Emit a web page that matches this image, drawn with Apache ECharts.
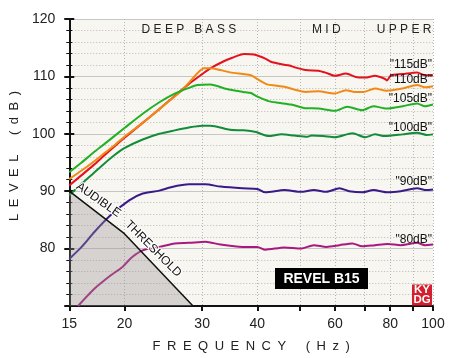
<!DOCTYPE html>
<html><head><meta charset="utf-8">
<script src="https://cdn.jsdelivr.net/npm/echarts@6/dist/echarts.min.js"></script>
<style>html,body{margin:0;padding:0;background:#fff}#c{width:450px;height:358px}</style>
</head><body><div id="c"></div>
<script>
// ---- data ----
const xLabelValues = [15, 20, 30, 40, 60, 80, 100];
const xGridValues = [15, 20, 30, 40, 50, 60, 70, 80, 90, 100];
const yMin = 70, yMax = 120, yStep = 10;

const red115 = [[15,91.0],[16,92.8],[17,94.5],[18,96.2],[20,99.3],[22,101.9],[24,104.3],[26,106.6],[28,108.7],[30,110.4],[31.3,111.4],[33.5,112.6],[35,113.2],[37.3,113.9],[39.3,113.8],[41.7,113.1],[42.8,112.6],[45.4,112.1],[47.3,111.9],[48.5,111.6],[51.5,111.1],[55,111.0],[57.4,110.6],[59.9,110.1],[63.5,110.5],[66.8,109.9],[70.2,109.8],[73.9,110.1],[77.7,109.6],[78.6,109.3],[80.4,110.2],[85.3,110.4],[92,110.7],[95.9,110.2],[100,110.2]];
const orange110 = [[15,92.1],[16,93.6],[17,95.1],[18,96.6],[19,98.0],[20,99.5],[22,101.9],[24,104.3],[26,106.5],[27,107.6],[28,108.9],[29.3,110.6],[30.3,111.4],[31.3,111.4],[33,111.1],[34.7,110.7],[37.1,110.4],[38.7,110.2],[39.7,109.7],[42.1,108.6],[44,108.4],[46.1,108.2],[48.5,107.7],[51.5,107.3],[55,107.4],[59.9,107.0],[63.5,107.6],[66.5,107.3],[69.7,107.3],[73.9,107.9],[78.4,107.5],[85.3,107.9],[92,108.5],[95.9,108.1],[100,108.3]];
const green105 = [[15,93.3],[16,95.0],[17,96.7],[18,98.2],[20,101.0],[22,103.5],[24,105.5],[26,107.0],[28,108.0],[29.3,108.5],[31.3,108.6],[34.1,107.8],[37.1,107.3],[38.7,107.1],[39.7,106.6],[42.4,105.7],[44.6,105.4],[47.7,105.1],[51,104.5],[55,104.4],[59.9,104.0],[64,104.7],[69.1,104.1],[73.3,104.8],[78.4,104.4],[85.3,104.8],[92,105.3],[95.9,104.8],[100,105.1]];
const dkgreen100 = [[15,89.3],[16,91.3],[17,93.1],[18,94.8],[19,96.3],[20,97.5],[22,99.0],[24,100.0],[26,100.6],[28,101.1],[30,101.4],[31.3,101.4],[34.7,100.7],[37.3,100.6],[39.7,100.3],[42.4,99.6],[45.4,99.9],[48.5,99.7],[51.9,99.5],[53.1,99.7],[56.4,99.6],[59.9,99.4],[65.7,100.1],[70.2,99.4],[73.9,99.9],[77.7,99.6],[85.3,99.9],[92,100.2],[96.7,99.8],[100,99.9]];
const purple90 = [[15,78.2],[16,80.3],[17.1,82.9],[18.6,85.8],[20.5,88.4],[22,89.6],[24,90.1],[25.5,90.7],[28,91.2],[30.5,91.2],[33,90.8],[37,90.5],[40,90.4],[41.7,89.8],[46.1,90.2],[50.2,89.9],[53.7,90.2],[57.4,89.9],[61.4,90.5],[64.6,90.0],[69.1,89.8],[73.3,90.2],[79,89.8],[84.5,90.0],[92,90.5],[96.7,90.2],[100,90.3]];
const magenta80 = [[15.7,70.0],[17.1,73.0],[18.6,75.3],[19.8,76.8],[20.8,78.5],[22,79.7],[24,80.3],[26,80.9],[28,81.0],[30.5,81.2],[33,80.7],[37,80.3],[40,80.3],[41.7,79.8],[46.1,80.2],[50.2,80.0],[53.7,80.6],[57.4,80.3],[61.4,80.6],[65.7,80.9],[69.1,80.4],[73.9,80.6],[79,80.8],[84.5,80.6],[92,81.0],[95.9,80.6],[100,80.7]];

const threshold = [[15,90],[20,82.6],[28.6,70]];

const seriesNames = ['"115dB"', '"110dB"', '"105dB"', '"100dB"', '"90dB"', '"80dB"'];
const seriesData = [red115, orange110, green105, dkgreen100, purple90, magenta80];
const labelLevels = [112.0, 109.35, 106.2, 101.15, 91.6, 81.6];

const bandNames = ['D E E P   B A S S', 'M I D', 'U P P E R'];
const bandFreqs = [28, 57.3, 86];
const bandLevel = 118.2;

// ---- styles ----
const colors = ['#e3121e', '#f08a14', '#22b024', '#138c3a', '#3a1a8a', '#a8187e'];
const FONT = '"Liberation Sans", Arial, Helvetica, sans-serif';
const SP = '\u2002';

const chart = echarts.init(document.getElementById('c'), null, {renderer: 'canvas'});

const series = seriesData.map((d, i) => ({
  name: seriesNames[i],
  type: 'line',
  data: d,
  smooth: 0.25,
  symbol: 'none',
  clip: true,
  lineStyle: {color: colors[i], width: 2},
  z: 3
}));
series.push({
  name: 'threshold',
  type: 'line',
  data: threshold,
  symbol: 'none',
  lineStyle: {color: '#111', width: 1.5},
  areaStyle: {color: 'rgba(150,144,144,0.5)', origin: 'start'},
  z: 5
});

chart.setOption({
  animation: false,
  backgroundColor: '#ffffff',
  grid: {left: 57, right: 17, top: 19, bottom: 52, show: true, backgroundColor: '#f7f6f1', borderWidth: 0},
  xAxis: {
    type: 'log', logBase: 10, min: 15, max: 100,
    name: ['F','R','E','Q','U','E','N','C','Y'].join(SP) + SP + SP + SP + ['(','H','z',')'].join(SP),
    nameLocation: 'middle', nameGap: 34,
    nameTextStyle: {fontFamily: FONT, fontSize: 13, color: '#222'},
    axisLine: {lineStyle: {color: '#111', width: 2}},
    axisTick: {customValues: xGridValues, length: 5, lineStyle: {color: '#111', width: 2}},
    axisLabel: {customValues: xLabelValues, fontFamily: FONT, fontSize: 14, color: '#222', margin: 11},
    splitLine: {show: true, lineStyle: {type: [1, 2], color: '#b5b5b5', width: 1}}
  },
  yAxis: [{
    type: 'value', min: yMin, max: yMax, interval: yStep,
    name: SP + SP + ['L','E','V','E','L'].join(SP) + SP + SP + SP + ['(','d','B',')'].join(SP),
    nameLocation: 'middle', nameGap: 37,
    nameTextStyle: {fontFamily: FONT, fontSize: 13, color: '#222'},
    axisLine: {show: true, lineStyle: {color: '#111', width: 2}},
    axisTick: {show: true, length: 5, lineStyle: {color: '#111', width: 2}},
    minorTick: {show: true, splitNumber: 5, length: 3, lineStyle: {color: '#111', width: 1}},
    axisLabel: {fontFamily: FONT, fontSize: 14, color: '#222', margin: 14, formatter: v => v === yMin ? '' : String(v)},
    splitLine: {show: true, lineStyle: {color: '#c6c6c6', width: 1}},
    minorSplitLine: {show: true, lineStyle: {type: [1, 2], color: '#b8b8b8', width: 1}}
  }, {
    type: 'value', min: yMin, max: yMax, interval: yStep, position: 'left',
    axisLine: {show: false},
    axisTick: {show: true, inside: true, length: 5, lineStyle: {color: '#111', width: 2}},
    minorTick: {show: true, splitNumber: 5, length: 3, lineStyle: {color: '#111', width: 1}},
    axisLabel: {show: false},
    splitLine: {show: false}
  }],
  series: series
});

// ---- annotations placed through the chart's own coordinate system ----
const px = p => chart.convertToPixel({xAxisIndex: 0, yAxisIndex: 0}, p);
const graphics = [];

bandNames.forEach((t, i) => {
  const p = px([bandFreqs[i], bandLevel]);
  graphics.push({type: 'text', x: p[0], y: p[1], z: 10,
    style: {text: t, font: '12px ' + FONT, fill: '#222', textAlign: 'center', textVerticalAlign: 'middle'}});
});

seriesNames.forEach((t, i) => {
  const p = px([100, labelLevels[i]]);
  graphics.push({type: 'text', x: p[0] - 1, y: p[1], z: 10,
    style: {text: t, font: '12px ' + FONT, fill: '#111', textAlign: 'right', textVerticalAlign: 'middle'}});
});

const a1 = px([17.5, 87.7]);
const a2 = px([23.0, 79.6]);
graphics.push({type: 'text', x: a1[0] - 0.5, y: a1[1] - 4.5, rotation: -35 * Math.PI / 180, z: 10,
  style: {text: 'AUDIBLE', font: '12px ' + FONT, fill: '#111', textAlign: 'center', textVerticalAlign: 'middle', stroke: '#ffffff', lineWidth: 2}});
graphics.push({type: 'text', x: a2[0] + 2, y: a2[1] - 2, rotation: -45 * Math.PI / 180, z: 10,
  style: {text: 'THRESHOLD', font: '12px ' + FONT, fill: '#111', textAlign: 'center', textVerticalAlign: 'middle', stroke: '#ffffff', lineWidth: 2}});

// model badge and logo
graphics.push({type: 'rect', shape: {x: 275, y: 268, width: 93, height: 21}, style: {fill: '#000'}, z: 10});
graphics.push({type: 'text', x: 321.5, y: 278.8, z: 11,
  style: {text: 'REVEL B15', font: 'bold 14px ' + FONT, fill: '#fff', textAlign: 'center', textVerticalAlign: 'middle'}});
graphics.push({type: 'rect', shape: {x: 412, y: 284.5, width: 20, height: 21}, style: {fill: '#d41f2e'}, z: 10});
graphics.push({type: 'text', x: 422, y: 290.2, z: 11,
  style: {text: 'KY', font: 'bold 11.5px ' + FONT, fill: '#fff', textAlign: 'center', textVerticalAlign: 'middle'}});
graphics.push({type: 'text', x: 422, y: 300, z: 11,
  style: {text: 'DG', font: 'bold 11.5px ' + FONT, fill: '#fff', textAlign: 'center', textVerticalAlign: 'middle'}});

chart.setOption({graphic: graphics});
</script>
</body></html>
